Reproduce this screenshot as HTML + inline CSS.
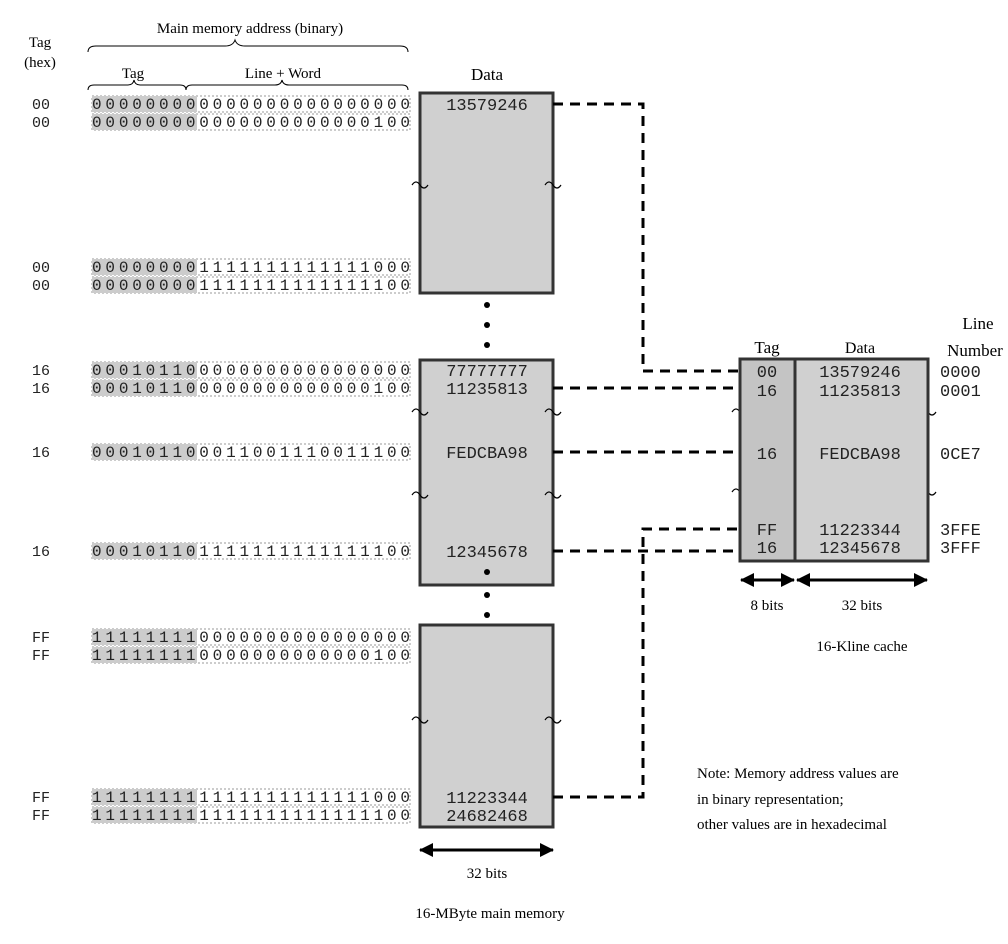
<!DOCTYPE html>
<html><head><meta charset="utf-8"><style>
body{margin:0;background:#fff}
svg{display:block}
.s{font-family:"Liberation Serif",serif;font-size:15px;fill:#000}
.m{font-family:"Liberation Mono",monospace;font-size:15px;fill:#222}
.b{font-family:"Liberation Mono",monospace;font-size:16px;fill:#222}
.d{font-family:"Liberation Mono",monospace;font-size:17px;fill:#222}
</style></head><body>
<svg width="1008" height="944" viewBox="0 0 1008 944" xmlns="http://www.w3.org/2000/svg">
<defs>
<marker id="ah" markerWidth="14" markerHeight="14" refX="13" refY="7" orient="auto-start-reverse" markerUnits="userSpaceOnUse"><path d="M0,0 L14,7 L0,14 z" fill="#000"/></marker>
<g id="row">
<rect x="92" y="-8" width="318" height="16" fill="#fff" stroke="#999" stroke-dasharray="2,2"/>
<rect x="92" y="-8" width="105" height="16" fill="#ccc"/>
</g>
<path id="w" d="M-8,2 q4,-6 8,0 q4,6 8,0" fill="none" stroke="#000" stroke-width="1.2"/>
</defs>
<text class="s" x="250" y="33" text-anchor="middle">Main memory address (binary)</text>
<path d="M88,52 q0,-6 8,-6 L225,46 q8,0 10,-6 q2,6 10,6 L400,46 q8,0 8,6" fill="none" stroke="#000"/>
<text class="s" x="40" y="47" text-anchor="middle">Tag</text>
<text class="s" x="40" y="67" text-anchor="middle">(hex)</text>
<text class="s" x="133" y="78" text-anchor="middle">Tag</text>
<text class="s" x="283" y="78" text-anchor="middle">Line + Word</text>
<path d="M88,90 q0,-5 6,-5 L128,85 q5,0 6,-5 q1,5 6,5 L180,85 q6,0 6,5 q0,-5 6,-5 L275,85 q6,0 7,-5 q1,5 7,5 L402,85 q6,0 6,5" fill="none" stroke="#000"/>
<text class="s" x="487" y="80" text-anchor="middle" style="font-size:17px">Data</text>

<g>
<use href="#row" y="104"/><use href="#row" y="122"/>
<use href="#row" y="267"/><use href="#row" y="285"/>
<use href="#row" y="370"/><use href="#row" y="388"/>
<use href="#row" y="452"/><use href="#row" y="551"/>
<use href="#row" y="637"/><use href="#row" y="655"/>
<use href="#row" y="797"/><use href="#row" y="815"/>
</g>
<g class="m">
<text x="32" y="109">00</text><text x="32" y="127">00</text>
<text x="32" y="272">00</text><text x="32" y="290">00</text>
<text x="32" y="375">16</text><text x="32" y="393">16</text>
<text x="32" y="457">16</text><text x="32" y="556">16</text>
<text x="32" y="642">FF</text><text x="32" y="660">FF</text>
<text x="32" y="802">FF</text><text x="32" y="820">FF</text>
</g>
<g class="b" lengthAdjust="spacingAndGlyphs">
<text x="92" y="109" textLength="318">000000000000000000000000</text>
<text x="92" y="127" textLength="318">000000000000000000000100</text>
<text x="92" y="272" textLength="318">000000001111111111111000</text>
<text x="92" y="290" textLength="318">000000001111111111111100</text>
<text x="92" y="375" textLength="318">000101100000000000000000</text>
<text x="92" y="393" textLength="318">000101100000000000000100</text>
<text x="92" y="457" textLength="318">000101100011001110011100</text>
<text x="92" y="556" textLength="318">000101101111111111111100</text>
<text x="92" y="642" textLength="318">111111110000000000000000</text>
<text x="92" y="660" textLength="318">111111110000000000000100</text>
<text x="92" y="802" textLength="318">111111111111111111111000</text>
<text x="92" y="820" textLength="318">111111111111111111111100</text>
</g>

<g fill="#d0d0d0" stroke="#333" stroke-width="3">
<rect x="420" y="93" width="133" height="200"/>
<rect x="420" y="360" width="133" height="225"/>
<rect x="420" y="625" width="133" height="202"/>
</g>
<g class="d" text-anchor="middle">
<text x="487" y="110">13579246</text>
<text x="487" y="376">77777777</text>
<text x="487" y="394">11235813</text>
<text x="487" y="458">FEDCBA98</text>
<text x="487" y="557">12345678</text>
<text x="487" y="803">11223344</text>
<text x="487" y="821">24682468</text>
</g>
<g fill="#000">
<circle cx="487" cy="305" r="3"/><circle cx="487" cy="325" r="3"/><circle cx="487" cy="345" r="3"/>
<circle cx="487" cy="572" r="3"/><circle cx="487" cy="595" r="3"/><circle cx="487" cy="615" r="3"/>
</g>
<g>
<use href="#w" x="420" y="183"/><use href="#w" x="553" y="183"/>
<use href="#w" x="420" y="410"/><use href="#w" x="553" y="410"/>
<use href="#w" x="420" y="493"/><use href="#w" x="553" y="493"/>
<use href="#w" x="420" y="718"/><use href="#w" x="553" y="718"/>
<use href="#w" x="740" y="410"/><use href="#w" x="928" y="410"/>
<use href="#w" x="740" y="490"/><use href="#w" x="928" y="490"/>
</g>
<line x1="420" y1="850" x2="553" y2="850" stroke="#000" stroke-width="3" marker-start="url(#ah)" marker-end="url(#ah)"/>
<text class="s" x="487" y="878" text-anchor="middle">32 bits</text>
<text class="s" x="490" y="918" text-anchor="middle">16-MByte main memory</text>

<g fill="none" stroke="#000" stroke-width="3" stroke-dasharray="10,7">
<path d="M553,104 H643 V371 H740"/>
<path d="M553,388 H740"/>
<path d="M553,452 H740"/>
<path d="M553,797 H643 V529 H740"/>
<path d="M553,551 H740"/>
</g>

<rect x="740" y="359" width="188" height="202" fill="#d0d0d0" stroke="#333" stroke-width="3"/>
<rect x="740" y="359" width="55" height="202" fill="#c4c4c4" stroke="#333" stroke-width="3"/>
<text class="s" x="767" y="353" text-anchor="middle" style="font-size:17px">Tag</text>
<text class="s" x="860" y="353" text-anchor="middle" style="font-size:16px">Data</text>
<text class="s" x="978" y="329" text-anchor="middle" style="font-size:17px">Line</text>
<text class="s" x="975" y="356" text-anchor="middle" style="font-size:17px">Number</text>
<g class="d" text-anchor="middle">
<text x="767" y="377">00</text><text x="767" y="396">16</text><text x="767" y="459">16</text>
<text x="767" y="535">FF</text><text x="767" y="553">16</text>
<text x="860" y="377">13579246</text><text x="860" y="396">11235813</text><text x="860" y="459">FEDCBA98</text>
<text x="860" y="535">11223344</text><text x="860" y="553">12345678</text>
</g>
<g class="d">
<text x="940" y="377">0000</text><text x="940" y="396">0001</text><text x="940" y="459">0CE7</text>
<text x="940" y="535">3FFE</text><text x="940" y="553">3FFF</text>
</g>
<line x1="741" y1="580" x2="794" y2="580" stroke="#000" stroke-width="3" marker-start="url(#ah)" marker-end="url(#ah)"/>
<line x1="797" y1="580" x2="927" y2="580" stroke="#000" stroke-width="3" marker-start="url(#ah)" marker-end="url(#ah)"/>
<text class="s" x="767" y="610" text-anchor="middle">8 bits</text>
<text class="s" x="862" y="610" text-anchor="middle">32 bits</text>
<text class="s" x="862" y="651" text-anchor="middle">16-Kline cache</text>
<text class="s" x="697" y="778">Note: Memory address values are</text>
<text class="s" x="697" y="804">in binary representation;</text>
<text class="s" x="697" y="829">other values are in hexadecimal</text>
</svg>
</body></html>
